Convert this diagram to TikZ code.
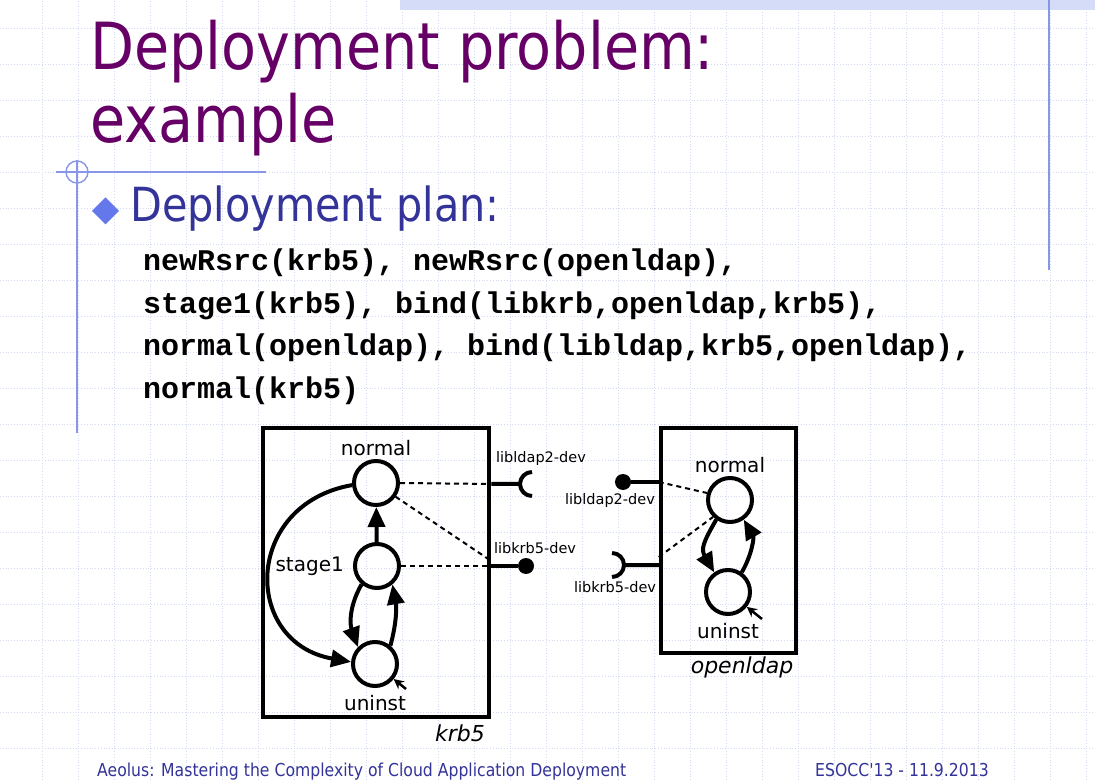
\documentclass[tikz,border=0pt]{standalone}
\usepackage{fontspec}
\setmainfont{DejaVu Sans}
\newfontfamily\slidefont[FakeStretch=0.88]{DejaVu Sans}
\newfontfamily\codefont{Liberation Mono}
\usetikzlibrary{arrows.meta, positioning}
\definecolor{titlepurple}{RGB}{102,0,102}
\definecolor{slideblue}{RGB}{51,51,153}
\definecolor{bulletblue}{RGB}{100,120,235}
\definecolor{decoblue}{RGB}{135,150,230}
\definecolor{gridblue}{RGB}{212,218,242}
\definecolor{bandblue}{RGB}{212,220,247}
\tikzset{
  gridline/.style={draw=gridblue, line width=0.8pt, dotted},
  deco/.style={draw=decoblue, line width=1.4pt},
  comp/.style={rectangle, draw=black, line width=4.5pt, inner sep=0pt},
  state/.style={circle, draw=black, line width=4pt, minimum size=44pt, inner sep=0pt},
  statelbl/.style={inner sep=1pt, font=\fontsize{20}{22}\selectfont},
  portlbl/.style={inner sep=1pt, font=\fontsize{14.5}{16}\selectfont},
  complbl/.style={inner sep=1pt, font=\fontsize{22}{24}\selectfont\itshape},
  provide/.style={circle, fill=black, minimum size=16pt, inner sep=0pt},
  portline/.style={line width=4pt},
  trans/.style={line width=4pt, -{Triangle[length=20pt,width=17pt]}},
  init/.style={line width=2.5pt, -{Stealth[length=10pt,width=10pt]}},
  link/.style={line width=2pt, dash pattern=on 5pt off 4pt},
}

\begin{document}
\begin{tikzpicture}[x=1pt, y=1pt]

  % ── Slide background ─────────────────────────────────────────────────
  \fill[white] (0,0) rectangle (1095,780);
  \useasboundingbox (0,0) rectangle (1095,780);
  \foreach \gx in {0,...,29}
    \draw[gridline] (42+36*\gx,0) -- (42+36*\gx,780);
  \foreach \gy in {0,...,20}
    \draw[gridline] (0,752-36*\gy) -- (1095,752-36*\gy);
  \fill[bandblue] (400,770) rectangle (1095,780);
  \draw[deco] (1049,780) -- (1049,510);
  \draw[deco] (56,608) -- (266,608);
  \draw[deco] (77,620) -- (77,347);
  \draw[deco] (77,608) circle[radius=11];

  % ── Title ────────────────────────────────────────────────────────────
  \node[anchor=base west, inner sep=0pt, text=titlepurple,
        font=\slidefont\fontsize{65}{73}\selectfont] (title1) at (90,710)
    {Deployment problem:};
  \node[anchor=base west, inner sep=0pt, text=titlepurple,
        font=\slidefont\fontsize{65}{73}\selectfont] (title2) at (90,637)
    {example};

  % ── Bullet and plan ──────────────────────────────────────────────────
  \fill[bulletblue] (92,569) -- (105.5,582.5) -- (119,569) -- (105.5,555.5) -- cycle;
  \node[anchor=base west, inner sep=0pt, text=slideblue,
        font=\slidefont\fontsize{47}{52}\selectfont] (plan) at (130,558)
    {Deployment plan:};
  \foreach \ln [count=\i] in {{newRsrc(krb5), newRsrc(openldap),},
                              {stage1(krb5), bind(libkrb,openldap,krb5),},
                              {normal(openldap), bind(libldap,krb5,openldap),},
                              {normal(krb5)}}
    \node[anchor=base west, inner sep=0pt,
          font=\codefont\bfseries\fontsize{30}{32}\selectfont] (plan-\i)
      at (143,551.5-42.5*\i) {\ln};

  % ── krb5 component ───────────────────────────────────────────────────
  \node[state] (kn) at (376,297) {};
  \node[state] (ks) at (377,214) {};
  \node[state] (ku) at (375,116) {};
  \node[statelbl, above=2pt of kn] (kn-lbl) {normal};
  \node[statelbl, left=8pt of ks] (ks-lbl) {stage1};
  \node[statelbl, below=6pt of ku] (ku-lbl) {uninst};

  \node[comp, minimum width=226pt, minimum height=289pt] (krb5) at (376,207.5) {};
  \node[complbl] (krb5-lbl) at (460,47) {krb5};

  \coordinate (kreq) at (520,296);
  \node[provide] (kprov) at (526,214) {};
  \coordinate (ku-init) at (406,91);

  \draw[link] (kn.east) -- (kreq -| krb5.east);
  \draw[link] (kn.-35) -- ([yshift=5pt]kprov -| krb5.east);
  \draw[link] (ks.east) -- (kprov -| krb5.east);

  \draw[trans] (ks) -- (kn);
  \draw[trans] (ks.230) to[out=240, in=110] (ku.135);
  \draw[trans] (ku.50) to[out=75, in=-80] (ks.-50);
  \draw[trans] (kn.185) to[out=190, in=170, looseness=1.6] (ku.175);
  \draw[init] (ku-init) -- (ku);

  \draw[portline] (kreq -| krb5.east) -- (kreq)
    ++(12,12) arc[start angle=90, end angle=270, radius=12];
  \draw[portline] (kprov -| krb5.east) -- (kprov);
  \node[portlbl] (kreq-lbl) at (541,321) {libldap2-dev};
  \node[portlbl] (kprov-lbl) at (535,232) {libkrb5-dev};

  % ── openldap component ───────────────────────────────────────────────
  \node[state] (on) at (730,280) {};
  \node[state] (ou) at (728,188) {};
  \node[statelbl, above=2pt of on] (on-lbl) {normal};
  \node[statelbl, below=6pt of ou] (ou-lbl) {uninst};

  \node[comp, minimum width=135pt, minimum height=225pt] (oldap) at (728.5,239.5) {};
  \node[complbl] (oldap-lbl) at (742,113) {openldap};

  \node[provide] (oprov) at (623,298) {};
  \coordinate (oreq) at (624,215);
  \coordinate (ou-init) at (762,161);

  \draw[link] (oprov -| oldap.west) -- (on.163);
  \draw[link] ([yshift=8pt]oreq -| oldap.west) -- (on.225);

  \draw[trans] (on.235) to[out=240, in=120, looseness=1.3] (ou.125);
  \draw[trans] (ou.55) to[out=60, in=-60] (on.-55);
  \draw[init] (ou-init) -- (ou);

  \draw[portline] (oprov) -- (oprov -| oldap.west);
  \draw[portline] (oreq -| oldap.west) -- (oreq)
    ++(-12,-12) arc[start angle=-90, end angle=90, radius=12];
  \node[portlbl] (oprov-lbl) at (610,280) {libldap2-dev};
  \node[portlbl] (oreq-lbl) at (615,193) {libkrb5-dev};

  % ── Footer ───────────────────────────────────────────────────────────
  \node[anchor=base west, inner sep=0pt, text=slideblue,
        font=\slidefont\fontsize{17.8}{19}\selectfont] (foot-l) at (97,4)
    {Aeolus: Mastering the Complexity of Cloud Application Deployment};
  \node[anchor=base west, inner sep=0pt, text=slideblue,
        font=\slidefont\fontsize{17.8}{19}\selectfont] (foot-r) at (815,4)
    {ESOCC'13 - 11.9.2013};

\end{tikzpicture}
\end{document}
